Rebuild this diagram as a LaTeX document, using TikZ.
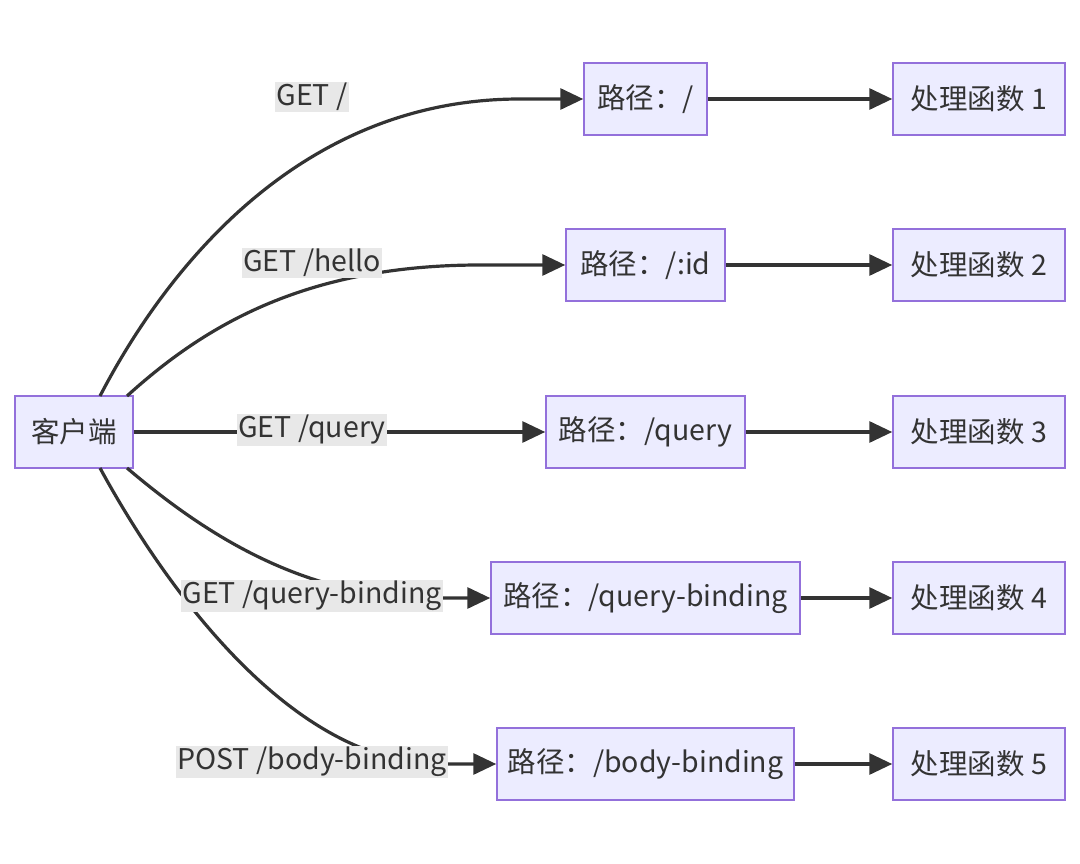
\documentclass[tikz,border=0pt]{standalone}
\usepackage{fontspec}
\setmainfont{Noto Sans CJK SC}
\usetikzlibrary{arrows.meta}
\definecolor{boxfill}{HTML}{ECECFF}
\definecolor{boxdraw}{HTML}{9370DB}
\definecolor{linec}{HTML}{333333}
\definecolor{lblbg}{HTML}{E8E8E8}
\tikzset{
  box/.style={draw=boxdraw, fill=boxfill, line width=1.5pt, minimum height=72pt, inner xsep=0pt, text=linec, font=\fontsize{28.5}{32}\selectfont},
  lbl/.style={fill=lblbg, text=linec, inner sep=1pt, font=\fontsize{28.5}{32}\selectfont},
  conn/.style={draw=linec, line width=3.2pt, -{Triangle[length=23pt,width=21pt]}},
}
\begin{document}
\begin{tikzpicture}[x=1pt,y=-1pt]
\useasboundingbox (0,0) rectangle (1080,864);
\node[box, minimum width=118pt] (c) at (74,432) {客户端};
\node[box, minimum width=123pt] (p1) at (645.5,99) {路径：/};
\node[box, minimum width=159pt] (p2) at (645.5,265) {路径：/:id};
\node[box, minimum width=199pt] (p3) at (645.5,432) {路径：/query};
\node[box, minimum width=309pt] (p4) at (645.5,598) {路径：/query-binding};
\node[box, minimum width=297pt] (p5) at (645.5,764) {路径：/body-binding};
\foreach \i/\y in {1/99,2/265,3/432,4/598,5/764}{
  \node[box, minimum width=172pt] (h\i) at (979,\y) {处理函数 \i};
}
\coordinate (c1) at (100,396);
\coordinate (c2) at (127,396);
\coordinate (c4) at (127,468);
\coordinate (c5) at (100,468);
\draw[conn] (c1) .. controls (150,300) and (280,99) .. (520,99) -- (p1.west);
\draw[conn] (c2) .. controls (200,330) and (300,265) .. (480,265) -- (p2.west);
\draw[conn] (c.east) -- (p3.west);
\draw[conn] (c4) .. controls (200,530) and (300,598) .. (430,598) -- (p4.west);
\draw[conn] (c5) .. controls (150,560) and (280,764) .. (440,764) -- (p5.west);
\foreach \i in {1,...,5}{ \draw[conn] (p\i.east) -- (h\i.west); }
\node[lbl] (l1) at (312,97) {GET /};
\node[lbl] (l2) at (312,263) {GET /hello};
\node[lbl] (l3) at (312,430) {GET /query};
\node[lbl] (l4) at (312,596) {GET /query-binding};
\node[lbl] (l5) at (312,762) {POST /body-binding};
\end{tikzpicture}
\end{document}
